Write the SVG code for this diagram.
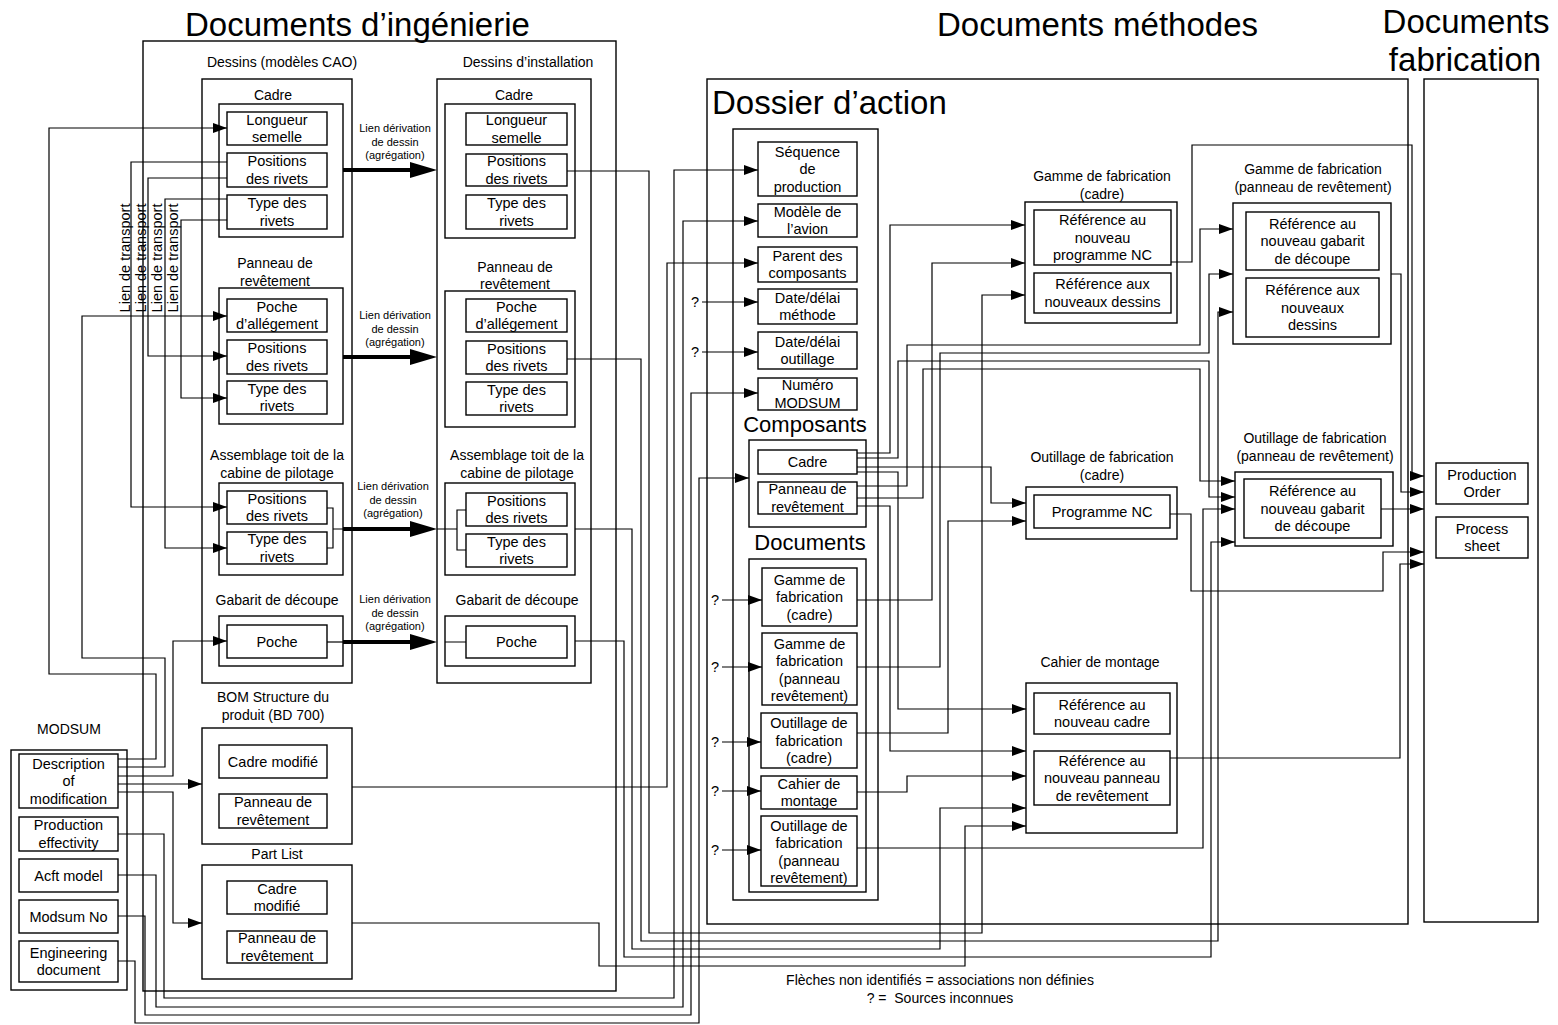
<svg xmlns="http://www.w3.org/2000/svg" width="1558" height="1025" viewBox="0 0 1558 1025">
<defs>
<style>
text{font-family:"Liberation Sans",Arial,Helvetica,sans-serif;fill:#000}
.t{font-size:14.5px;text-anchor:middle}
.lb{font-size:14px;text-anchor:middle}
.sm{font-size:11px;text-anchor:middle}
.h1{font-size:33px}
.h2{font-size:22px;text-anchor:middle}
.frame{fill:none;stroke:#000;stroke-width:1.4}
.box{fill:#fff;stroke:#000;stroke-width:1.4}
.c{fill:none;stroke:#000;stroke-width:1.2}
.ca{fill:none;stroke:#000;stroke-width:1.2;marker-end:url(#arr)}
.thick{fill:none;stroke:#000;stroke-width:4;marker-end:url(#big)}
</style>
<marker id="arr" markerUnits="userSpaceOnUse" markerWidth="14" markerHeight="10" viewBox="0 0 14 10" refX="14" refY="5" orient="auto"><path d="M0,0 L14,5 L0,10 Z"/></marker>
<marker id="big" markerUnits="userSpaceOnUse" markerWidth="27" markerHeight="16" viewBox="0 0 27 16" refX="6" refY="8" orient="auto"><path d="M0,0 L27,8 L0,16 Z"/></marker>
</defs>
<rect x="0" y="0" width="1558" height="1025" fill="#fff"/>

<!-- ===== Section frames and titles ===== -->
<g id="eng-docs">
<rect class="frame" x="143" y="41" width="473" height="950"/>
<text class="h1" x="185" y="36">Documents d’ingénierie</text>
</g>
<g id="methods-docs">
<text class="h1" x="937" y="36">Documents méthodes</text>
</g>
<g id="fab-docs">
<rect class="frame" x="1424" y="79" width="114" height="843"/>
<text class="h1" x="1466" y="33" text-anchor="middle">Documents</text>
<text class="h1" x="1465" y="71" text-anchor="middle">fabrication</text>
</g>
<g id="dossier-action">
<rect class="frame" x="707" y="79" width="701" height="845"/>
<text class="h1" x="712" y="114">Dossier d’action</text>
<rect class="frame" x="733" y="129" width="145" height="771"/>
</g>

<!-- ===== Connectors ===== -->
<g id="connectors">
<!-- MODSUM description to CAD models -->
<path class="ca" d="M118,759 H156 V674 H49 V128 H227"/>
<path class="ca" d="M118,767 H165 V658 H82 V316 H227"/>
<path class="ca" d="M118,776 H173 V641 H227"/>
<path class="ca" d="M118,784 H202"/>
<path class="ca" d="M118,792 H173 V923 H202"/>
<!-- transport links -->
<path class="ca" d="M227,162 H131 V507 H227"/>
<path class="ca" d="M227,178 H148 V356 H227"/>
<path class="ca" d="M227,199 H165 V548 H227"/>
<path class="ca" d="M227,220 H181 V398 H227"/>
<!-- drawing derivation links -->
<path class="thick" d="M343,170 H416"/>
<path class="thick" d="M343,357 H416"/>
<path class="c" d="M327,508 H333 V548 H327 M333,529 H343"/>
<path class="thick" d="M343,529 H416"/>
<path class="c" d="M327,642 H343"/>
<path class="thick" d="M343,642 H416"/>
<path class="c" d="M437,529 H457 M466,510 H457 V550 H466 M445,642 H466"/>
<!-- MODSUM fields to action file -->
<path class="ca" d="M118,834 H164 V998 H674 V170 H758"/>
<path class="ca" d="M118,875 H156 V1007 H683 V221 H758"/>
<path class="ca" d="M118,916 H145 V1015 H691 V393 H758"/>
<path class="ca" d="M118,961 H135 V1023 H699 V478 H749"/>
<path class="ca" d="M352,787 H667 V263 H758"/>
<path class="ca" d="M352,923 H599 V966 H965 V826 H1026"/>
<!-- installation drawings to method documents -->
<path class="ca" d="M567,171 H649 V933 H982 V295 H1025"/>
<path class="ca" d="M567,359 H641 V941 H1218 V312 H1233"/>
<path class="ca" d="M575,529 H632 V949 H940 V808 H1026"/>
<path class="ca" d="M575,641 H624 V957 H1211 V542 H1235"/>
<!-- unknown sources -->
<path class="ca" d="M702,302 H758"/>
<path class="ca" d="M702,352 H758"/>
<path class="ca" d="M722,600 H762"/>
<path class="ca" d="M722,667 H762"/>
<path class="ca" d="M722,742 H761"/>
<path class="ca" d="M722,791 H761"/>
<path class="ca" d="M722,850 H761"/>
<!-- components -->
<path class="ca" d="M857,453 H890 V225 H1025"/>
<path class="ca" d="M857,458 H898 V361 H1209 V497 H1235"/>
<path class="ca" d="M857,467 H991 V503 H1026"/>
<path class="ca" d="M857,472 H898 V709 H1026"/>
<path class="ca" d="M857,486 H907 V345 H1200 V229 H1233"/>
<path class="ca" d="M857,498 H923 V369 H1200 V481 H1235"/>
<path class="ca" d="M857,506 H890 V751 H1026"/>
<!-- action file documents -->
<path class="ca" d="M857,600 H932 V263 H1025"/>
<path class="ca" d="M857,667 H940 V353 H1209 V274 H1233"/>
<path class="ca" d="M857,733 H948 V521 H1026"/>
<path class="ca" d="M857,792 H907 V776 H1026"/>
<path class="ca" d="M857,848 H1203 V509 H1235"/>
<!-- method documents to shop documents -->
<path class="ca" d="M1171,262 H1192 V145 H1412 V476 H1424"/>
<path class="ca" d="M1391,274 H1401 V492 H1424"/>
<path class="ca" d="M1381,509 H1424"/>
<path class="ca" d="M1170,514 H1191 V591 H1383 V552 H1424"/>
<path class="ca" d="M1169,758 H1400 V564 H1424"/>
</g>

<!-- ===== CAD models ===== -->
<g id="dessins-cao">
<rect class="frame" x="202" y="79" width="150" height="604"/>
<text class="lb" x="282" y="67">Dessins (modèles CAO)</text>
</g>
<g id="cao-cadre">
<rect class="frame" x="219" y="104" width="124" height="133"/>
<text class="lb" x="273" y="100">Cadre</text>
</g>
<g id="cao-cadre-longueur"><rect class="box" x="227" y="112" width="100" height="33"/><text class="t" x="277" y="124.8">Longueur<tspan x="277" dy="17.5">semelle</tspan></text></g>
<g id="cao-cadre-positions"><rect class="box" x="227" y="153" width="100" height="34"/><text class="t" x="277" y="166.3">Positions<tspan x="277" dy="17.5">des rivets</tspan></text></g>
<g id="cao-cadre-type"><rect class="box" x="227" y="195" width="100" height="34"/><text class="t" x="277" y="208.3">Type des<tspan x="277" dy="17.5">rivets</tspan></text></g>
<g id="cao-panneau">
<rect class="frame" x="219" y="288" width="124" height="136"/>
<text class="lb" x="275" y="268">Panneau de<tspan x="275" dy="17.5">revêtement</tspan></text>
</g>
<g id="cao-panneau-poche"><rect class="box" x="227" y="299" width="100" height="33"/><text class="t" x="277" y="311.8">Poche<tspan x="277" dy="17.5">d’allégement</tspan></text></g>
<g id="cao-panneau-positions"><rect class="box" x="227" y="340" width="100" height="34"/><text class="t" x="277" y="353.3">Positions<tspan x="277" dy="17.5">des rivets</tspan></text></g>
<g id="cao-panneau-type"><rect class="box" x="227" y="381" width="100" height="33"/><text class="t" x="277" y="393.8">Type des<tspan x="277" dy="17.5">rivets</tspan></text></g>
<g id="cao-assemblage">
<rect class="frame" x="219" y="483" width="124" height="92"/>
<text class="lb" x="277" y="460">Assemblage toit de la<tspan x="277" dy="18">cabine de pilotage</tspan></text>
</g>
<g id="cao-assemblage-positions"><rect class="box" x="227" y="491" width="100" height="33"/><text class="t" x="277" y="503.8">Positions<tspan x="277" dy="17.5">des rivets</tspan></text></g>
<g id="cao-assemblage-type"><rect class="box" x="227" y="532" width="100" height="32"/><text class="t" x="277" y="544.3">Type des<tspan x="277" dy="17.5">rivets</tspan></text></g>
<g id="cao-gabarit">
<rect class="frame" x="219" y="616" width="124" height="50"/>
<text class="lb" x="277" y="605">Gabarit de découpe</text>
</g>
<g id="cao-gabarit-poche"><rect class="box" x="227" y="625" width="100" height="33"/><text class="t" x="277" y="646.5">Poche</text></g>

<!-- derivation labels -->
<g id="derivation-labels">
<text class="sm" x="395" y="132">Lien dérivation<tspan x="395" dy="13.5">de dessin</tspan><tspan x="395" dy="13.5">(agrégation)</tspan></text>
<text class="sm" x="395" y="319">Lien dérivation<tspan x="395" dy="13.5">de dessin</tspan><tspan x="395" dy="13.5">(agrégation)</tspan></text>
<text class="sm" x="393" y="490">Lien dérivation<tspan x="393" dy="13.5">de dessin</tspan><tspan x="393" dy="13.5">(agrégation)</tspan></text>
<text class="sm" x="395" y="603">Lien dérivation<tspan x="395" dy="13.5">de dessin</tspan><tspan x="395" dy="13.5">(agrégation)</tspan></text>
</g>

<!-- transport link labels -->
<g id="transport-labels">
<text class="t" transform="translate(130,258) rotate(-90)">Lien de transport</text>
<text class="t" transform="translate(146,258) rotate(-90)">Lien de transport</text>
<text class="t" transform="translate(162,258) rotate(-90)">Lien de transport</text>
<text class="t" transform="translate(178,258) rotate(-90)">Lien de transport</text>
</g>

<!-- ===== Installation drawings ===== -->
<g id="dessins-installation">
<rect class="frame" x="437" y="79" width="154" height="604"/>
<text class="lb" x="528" y="67">Dessins d’installation</text>
</g>
<g id="inst-cadre">
<rect class="frame" x="445" y="104" width="130" height="134"/>
<text class="lb" x="514" y="100">Cadre</text>
</g>
<g id="inst-cadre-longueur"><rect class="box" x="466" y="113" width="101" height="32"/><text class="t" x="516.5" y="125.3">Longueur<tspan x="516.5" dy="17.5">semelle</tspan></text></g>
<g id="inst-cadre-positions"><rect class="box" x="466" y="154" width="101" height="32"/><text class="t" x="516.5" y="166.3">Positions<tspan x="516.5" dy="17.5">des rivets</tspan></text></g>
<g id="inst-cadre-type"><rect class="box" x="466" y="195" width="101" height="34"/><text class="t" x="516.5" y="208.3">Type des<tspan x="516.5" dy="17.5">rivets</tspan></text></g>
<g id="inst-panneau">
<rect class="frame" x="445" y="291" width="130" height="136"/>
<text class="lb" x="515" y="272">Panneau de<tspan x="515" dy="17">revêtement</tspan></text>
</g>
<g id="inst-panneau-poche"><rect class="box" x="466" y="299" width="101" height="33"/><text class="t" x="516.5" y="311.8">Poche<tspan x="516.5" dy="17.5">d’allégement</tspan></text></g>
<g id="inst-panneau-positions"><rect class="box" x="466" y="341" width="101" height="33"/><text class="t" x="516.5" y="353.8">Positions<tspan x="516.5" dy="17.5">des rivets</tspan></text></g>
<g id="inst-panneau-type"><rect class="box" x="466" y="382" width="101" height="33"/><text class="t" x="516.5" y="394.8">Type des<tspan x="516.5" dy="17.5">rivets</tspan></text></g>
<g id="inst-assemblage">
<rect class="frame" x="445" y="483" width="130" height="92"/>
<text class="lb" x="517" y="460">Assemblage toit de la<tspan x="517" dy="18">cabine de pilotage</tspan></text>
</g>
<g id="inst-assemblage-positions"><rect class="box" x="466" y="493" width="101" height="33"/><text class="t" x="516.5" y="505.8">Positions<tspan x="516.5" dy="17.5">des rivets</tspan></text></g>
<g id="inst-assemblage-type"><rect class="box" x="466" y="534" width="101" height="33"/><text class="t" x="516.5" y="546.8">Type des<tspan x="516.5" dy="17.5">rivets</tspan></text></g>
<g id="inst-gabarit">
<rect class="frame" x="445" y="616" width="130" height="50"/>
<text class="lb" x="517" y="605">Gabarit de découpe</text>
</g>
<g id="inst-gabarit-poche"><rect class="box" x="466" y="626" width="101" height="32"/><text class="t" x="516.5" y="647">Poche</text></g>

<!-- ===== BOM and part list ===== -->
<g id="bom">
<rect class="frame" x="202" y="728" width="150" height="116"/>
<text class="lb" x="273" y="702">BOM Structure du<tspan x="273" dy="17.5">produit (BD 700)</tspan></text>
</g>
<g id="bom-cadre"><rect class="box" x="219" y="745" width="108" height="33"/><text class="t" x="273" y="766.5">Cadre modifié</text></g>
<g id="bom-panneau"><rect class="box" x="219" y="794" width="108" height="34"/><text class="t" x="273" y="807.3">Panneau de<tspan x="273" dy="17.5">revêtement</tspan></text></g>
<g id="part-list">
<rect class="frame" x="202" y="865" width="150" height="114"/>
<text class="lb" x="277" y="859">Part List</text>
</g>
<g id="pl-cadre"><rect class="box" x="227" y="881" width="100" height="33"/><text class="t" x="277" y="893.8">Cadre<tspan x="277" dy="17.5">modifié</tspan></text></g>
<g id="pl-panneau"><rect class="box" x="227" y="931" width="100" height="32"/><text class="t" x="277" y="943.3">Panneau de<tspan x="277" dy="17.5">revêtement</tspan></text></g>

<!-- ===== MODSUM ===== -->
<g id="modsum">
<rect class="frame" x="11" y="750" width="116" height="240"/>
<text class="lb" x="69" y="734">MODSUM</text>
</g>
<g id="ms-description"><rect class="box" x="19" y="754" width="99" height="54"/><text class="t" x="68.5" y="768.5">Description<tspan x="68.5" dy="17.5">of</tspan><tspan x="68.5" dy="17.5">modification</tspan></text></g>
<g id="ms-effectivity"><rect class="box" x="19" y="817" width="99" height="34"/><text class="t" x="68.5" y="830.3">Production<tspan x="68.5" dy="17.5">effectivity</tspan></text></g>
<g id="ms-acft"><rect class="box" x="19" y="859" width="99" height="33"/><text class="t" x="68.5" y="880.5">Acft model</text></g>
<g id="ms-number"><rect class="box" x="19" y="900" width="99" height="33"/><text class="t" x="68.5" y="921.5">Modsum No</text></g>
<g id="ms-engdoc"><rect class="box" x="19" y="941" width="99" height="41"/><text class="t" x="68.5" y="957.8">Engineering<tspan x="68.5" dy="17.5">document</tspan></text></g>

<!-- ===== Action file contents ===== -->
<g id="da-sequence"><rect class="box" x="758" y="142" width="99" height="54"/><text class="t" x="807.5" y="156.5">Séquence<tspan x="807.5" dy="17.5">de</tspan><tspan x="807.5" dy="17.5">production</tspan></text></g>
<g id="da-modele"><rect class="box" x="758" y="204" width="99" height="33"/><text class="t" x="807.5" y="216.8">Modèle de<tspan x="807.5" dy="17.5">l’avion</tspan></text></g>
<g id="da-parent"><rect class="box" x="758" y="247" width="99" height="35"/><text class="t" x="807.5" y="260.8">Parent des<tspan x="807.5" dy="17.5">composants</tspan></text></g>
<g id="da-date-methode"><rect class="box" x="758" y="289" width="99" height="35"/><text class="t" x="807.5" y="302.8">Date/délai<tspan x="807.5" dy="17.5">méthode</tspan></text></g>
<g id="da-date-outillage"><rect class="box" x="758" y="332" width="99" height="37"/><text class="t" x="807.5" y="346.8">Date/délai<tspan x="807.5" dy="17.5">outillage</tspan></text></g>
<g id="da-numero"><rect class="box" x="758" y="378" width="99" height="32"/><text class="t" x="807.5" y="390.3">Numéro<tspan x="807.5" dy="17.5">MODSUM</tspan></text></g>
<g id="da-composants">
<rect class="frame" x="749" y="440" width="117" height="87"/>
<text class="h2" x="805" y="432">Composants</text>
</g>
<g id="comp-cadre"><rect class="box" x="758" y="450" width="99" height="24"/><text class="t" x="807.5" y="467">Cadre</text></g>
<g id="comp-panneau"><rect class="box" x="758" y="482" width="99" height="32"/><text class="t" x="807.5" y="494.3">Panneau de<tspan x="807.5" dy="17.5">revêtement</tspan></text></g>
<g id="da-documents">
<rect class="frame" x="749" y="559" width="117" height="333"/>
<text class="h2" x="810" y="550">Documents</text>
</g>
<g id="doc-gamme-cadre"><rect class="box" x="762" y="568" width="95" height="58"/><text class="t" x="809.5" y="584.5">Gamme de<tspan x="809.5" dy="17.5">fabrication</tspan><tspan x="809.5" dy="17.5">(cadre)</tspan></text></g>
<g id="doc-gamme-panneau"><rect class="box" x="762" y="633" width="95" height="72"/><text class="t" x="809.5" y="648.8">Gamme de<tspan x="809.5" dy="17.5">fabrication</tspan><tspan x="809.5" dy="17.5">(panneau</tspan><tspan x="809.5" dy="17.5">revêtement)</tspan></text></g>
<g id="doc-outillage-cadre"><rect class="box" x="761" y="713" width="96" height="55"/><text class="t" x="809" y="728">Outillage de<tspan x="809" dy="17.5">fabrication</tspan><tspan x="809" dy="17.5">(cadre)</tspan></text></g>
<g id="doc-cahier"><rect class="box" x="761" y="776" width="96" height="33"/><text class="t" x="809" y="788.8">Cahier de<tspan x="809" dy="17.5">montage</tspan></text></g>
<g id="doc-outillage-panneau"><rect class="box" x="761" y="816" width="96" height="70"/><text class="t" x="809" y="830.8">Outillage de<tspan x="809" dy="17.5">fabrication</tspan><tspan x="809" dy="17.5">(panneau</tspan><tspan x="809" dy="17.5">revêtement)</tspan></text></g>

<!-- unknown source marks -->
<g id="unknown-sources">
<text class="t" x="695" y="307">?</text>
<text class="t" x="695" y="357">?</text>
<text class="t" x="715" y="605">?</text>
<text class="t" x="715" y="672">?</text>
<text class="t" x="715" y="747">?</text>
<text class="t" x="715" y="796">?</text>
<text class="t" x="715" y="855">?</text>
</g>

<!-- ===== Method documents ===== -->
<g id="m-gamme-cadre">
<rect class="frame" x="1025" y="202" width="152" height="121"/>
<text class="lb" x="1102" y="181">Gamme de fabrication<tspan x="1102" dy="17.5">(cadre)</tspan></text>
</g>
<g id="mgc-nc"><rect class="box" x="1034" y="210" width="137" height="55"/><text class="t" x="1102.5" y="225">Référence au<tspan x="1102.5" dy="17.5">nouveau</tspan><tspan x="1102.5" dy="17.5">programme NC</tspan></text></g>
<g id="mgc-dessins"><rect class="box" x="1034" y="273" width="137" height="40"/><text class="t" x="1102.5" y="289.3">Référence aux<tspan x="1102.5" dy="17.5">nouveaux dessins</tspan></text></g>
<g id="m-gamme-panneau">
<rect class="frame" x="1233" y="203" width="158" height="141"/>
<text class="lb" x="1313" y="174">Gamme de fabrication<tspan x="1313" dy="17.5">(panneau de revêtement)</tspan></text>
</g>
<g id="mgp-gabarit"><rect class="box" x="1246" y="212" width="133" height="58"/><text class="t" x="1312.5" y="228.5">Référence au<tspan x="1312.5" dy="17.5">nouveau gabarit</tspan><tspan x="1312.5" dy="17.5">de découpe</tspan></text></g>
<g id="mgp-dessins"><rect class="box" x="1246" y="278" width="133" height="59"/><text class="t" x="1312.5" y="295">Référence aux<tspan x="1312.5" dy="17.5">nouveaux</tspan><tspan x="1312.5" dy="17.5">dessins</tspan></text></g>
<g id="m-outillage-cadre">
<rect class="frame" x="1026" y="487" width="151" height="52"/>
<text class="lb" x="1102" y="462">Outillage de fabrication<tspan x="1102" dy="17.5">(cadre)</tspan></text>
</g>
<g id="moc-nc"><rect class="box" x="1034" y="495" width="136" height="33"/><text class="t" x="1102" y="516.5">Programme NC</text></g>
<g id="m-outillage-panneau">
<rect class="frame" x="1235" y="472" width="158" height="74"/>
<text class="lb" x="1315" y="443">Outillage de fabrication<tspan x="1315" dy="17.5">(panneau de revêtement)</tspan></text>
</g>
<g id="mop-gabarit"><rect class="box" x="1244" y="479" width="137" height="59"/><text class="t" x="1312.5" y="496">Référence au<tspan x="1312.5" dy="17.5">nouveau gabarit</tspan><tspan x="1312.5" dy="17.5">de découpe</tspan></text></g>
<g id="m-cahier">
<rect class="frame" x="1026" y="683" width="151" height="150"/>
<text class="lb" x="1100" y="667">Cahier de montage</text>
</g>
<g id="mc-cadre"><rect class="box" x="1034" y="693" width="136" height="41"/><text class="t" x="1102" y="709.8">Référence au<tspan x="1102" dy="17.5">nouveau cadre</tspan></text></g>
<g id="mc-panneau"><rect class="box" x="1034" y="751" width="136" height="54"/><text class="t" x="1102" y="765.5">Référence au<tspan x="1102" dy="17.5">nouveau panneau</tspan><tspan x="1102" dy="17.5">de revêtement</tspan></text></g>

<!-- ===== Shop documents ===== -->
<g id="f-production-order"><rect class="box" x="1436" y="463" width="92" height="41"/><text class="t" x="1482" y="479.8">Production<tspan x="1482" dy="17.5">Order</tspan></text></g>
<g id="f-process-sheet"><rect class="box" x="1436" y="517" width="92" height="41"/><text class="t" x="1482" y="533.8">Process<tspan x="1482" dy="17.5">sheet</tspan></text></g>

<!-- legend -->
<g id="legend">
<text class="lb" x="940" y="985">Flèches non identifiés = associations non définies</text>
<text class="lb" x="940" y="1003">? =&#160; Sources inconnues</text>
</g>
</svg>
